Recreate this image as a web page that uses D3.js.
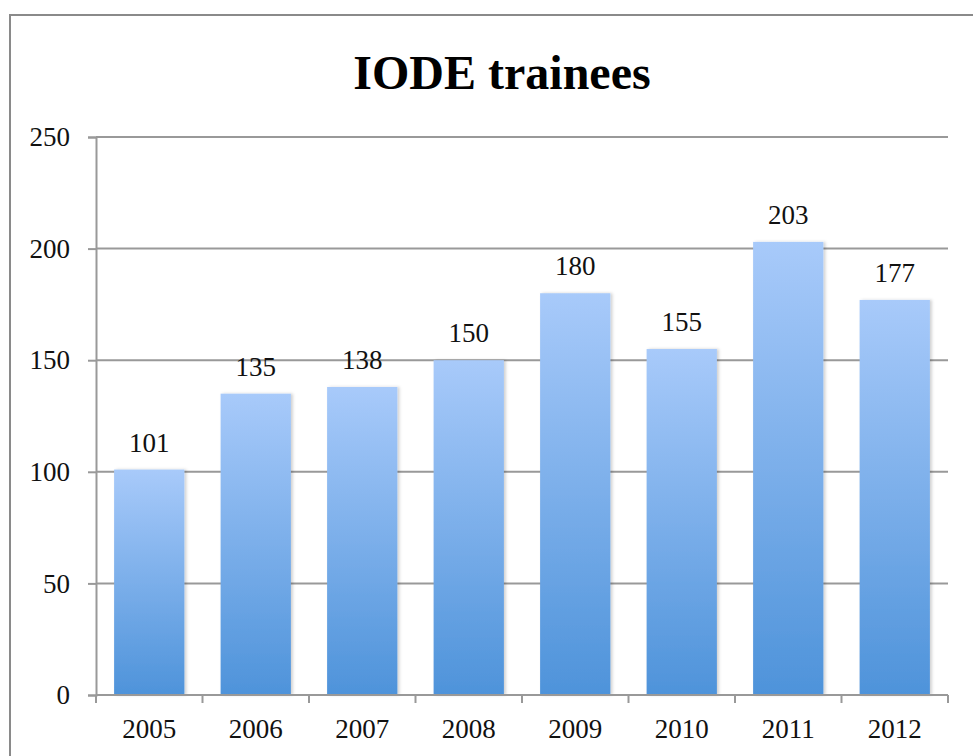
<!DOCTYPE html>
<html>
<head>
<meta charset="utf-8">
<script src="https://cdn.jsdelivr.net/npm/d3@7"></script>
<style>
html,body{margin:0;padding:0;background:#fff;}
svg{display:block;}
</style>
</head>
<body>
<script>
const categories = ["2005","2006","2007","2008","2009","2010","2011","2012"];
const values = [101,135,138,150,180,155,203,177];
const yTicks = [0,50,100,150,200,250];
const title = "IODE trainees";

const W = 973, H = 756;
const margin = {left:96, right:25, top:137, bottom:61};
const svg = d3.select("body").append("svg").attr("width",W).attr("height",H);
const font = "'Liberation Serif', 'DejaVu Serif', serif";
const fs = 27;

// outer border
svg.append("rect").attr("x",10).attr("y",15).attr("width",W+20).attr("height",H+20)
  .attr("fill","#fff").attr("stroke","#8a8a8a").attr("stroke-width",2);

const defs = svg.append("defs");
const grad = defs.append("linearGradient").attr("id","barGrad")
  .attr("x1",0).attr("y1",0).attr("x2",0).attr("y2",1);
grad.append("stop").attr("offset","0%").attr("stop-color","#a8cafa");
grad.append("stop").attr("offset","100%").attr("stop-color","#4e93da");
const filt = defs.append("filter").attr("id","shadow").attr("x","-10%").attr("y","-5%").attr("width","125%").attr("height","110%");
filt.append("feDropShadow").attr("dx",2).attr("dy",0).attr("stdDeviation",1.5).attr("flood-color","#000").attr("flood-opacity",0.18);

const x = d3.scaleBand().domain(categories).range([margin.left, W-margin.right]).paddingInner(0.34).paddingOuter(0.17);
const y = d3.scaleLinear().domain([0,250]).range([H-margin.bottom, margin.top]);

// gridlines
svg.append("g").selectAll("line").data(yTicks).join("line")
  .attr("x1",margin.left).attr("x2",W-margin.right)
  .attr("y1",d=>y(d)).attr("y2",d=>y(d))
  .attr("stroke","#999").attr("stroke-width",2);

// y axis
const yAxis = svg.append("g").attr("transform",`translate(${margin.left},0)`)
  .call(d3.axisLeft(y).tickValues(yTicks).tickSize(8).tickPadding(18));
yAxis.select(".domain").attr("stroke","#999").attr("stroke-width",2);
yAxis.selectAll(".tick line").attr("stroke","#999").attr("stroke-width",2);
yAxis.selectAll(".tick text").attr("font-family",font).attr("font-size",fs).attr("fill","#111");

// bars
svg.append("g").selectAll("rect").data(values).join("rect")
  .attr("x",(d,i)=>x(categories[i]))
  .attr("width",x.bandwidth())
  .attr("y",d=>y(d))
  .attr("height",d=>y(0)-y(d))
  .attr("fill","url(#barGrad)")
  .attr("filter","url(#shadow)");

// x axis with boundary ticks
const xEdges = categories.map(c=>x(c)-x.step()*x.paddingInner()/2);
xEdges.push(W-margin.right);
const xg = svg.append("g");
xg.append("line").attr("x1",margin.left).attr("x2",W-margin.right)
  .attr("y1",y(0)).attr("y2",y(0)).attr("stroke","#999").attr("stroke-width",2);
xg.selectAll("line.t").data(xEdges).join("line").attr("class","t")
  .attr("x1",d=>d).attr("x2",d=>d).attr("y1",y(0)).attr("y2",y(0)+8)
  .attr("stroke","#999").attr("stroke-width",2);
xg.selectAll("text").data(categories).join("text")
  .attr("x",d=>x(d)+x.bandwidth()/2).attr("y",y(0)+43)
  .attr("text-anchor","middle").attr("font-family",font).attr("font-size",fs).attr("fill","#111")
  .text(d=>d);

// value labels
svg.append("g").selectAll("text").data(values).join("text")
  .attr("x",(d,i)=>x(categories[i])+x.bandwidth()/2)
  .attr("y",d=>y(d)-18)
  .attr("text-anchor","middle").attr("font-family",font).attr("font-size",fs).attr("fill","#111")
  .text(d=>d);

// title
svg.append("text").attr("x",502).attr("y",89).attr("text-anchor","middle")
  .attr("font-family",font).attr("font-weight","bold").attr("font-size",48).attr("fill","#000")
  .text(title);
</script>
</body>
</html>
